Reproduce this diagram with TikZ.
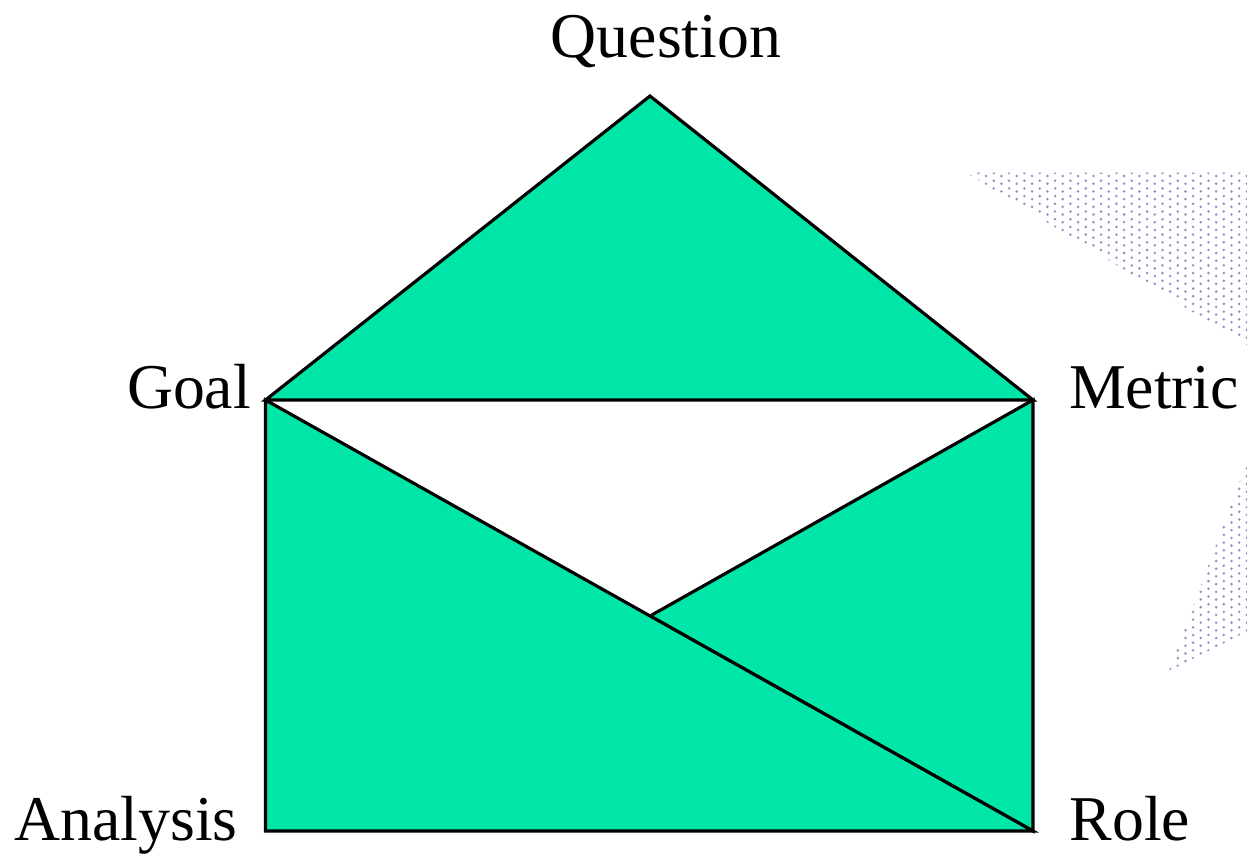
\documentclass[tikz,border=0pt]{standalone}
\usepackage{fontspec}
\usepackage{xcolor}
\usepackage{tikz}
\setmainfont{Liberation Serif}
\definecolor{envelopegreen}{HTML}{00E6A8}
\definecolor{dotpurple}{HTML}{A684C6}
\tikzset{
  corner label/.style={anchor=base,inner sep=0pt,font=\fontsize{36.3}{40}\selectfont},
  flap/.style={fill=envelopegreen,draw=black,line width=1.8pt,line join=miter}
}

\begin{document}
\begin{tikzpicture}[x=0.02cm,y=-0.02cm]
  \useasboundingbox (0,0) rectangle (1247,853);
  % dotted shadow at the right edge
  \begin{scope}
    \clip (966,172.5) -- (1248,172.5) -- (1248,346) -- cycle
          (1169,671) -- (1248,459) -- (1248,631) -- cycle;
    \foreach \i in {0,...,36} {
      \foreach \j in {0,...,65} {
        \pgfmathsetmacro{\dotx}{970.7+7.67*\i}
        \pgfmathsetmacro{\doty}{176+7.7*\j-3*mod(\i,2)}
        \fill[dotpurple] (\dotx,\doty) circle (1.4);
      }
    }
  \end{scope}
  \coordinate (top) at (650,96);
  \coordinate (left) at (265.5,400);
  \coordinate (right) at (1033,400);
  \coordinate (mid) at (650,616);
  \coordinate (bottomleft) at (265.5,831);
  \coordinate (bottomright) at (1033,831);
  \draw[flap] (left) -- (top) -- (right) -- cycle;
  \draw[flap] (right) -- (mid) -- (bottomright) -- cycle;
  \draw[flap] (left) -- (bottomleft) -- (bottomright) -- cycle;
  \node[corner label] (question) at (666,57) {Question};
  \node[corner label] (goal) at (189,408) {Goal};
  \node[corner label] (metric) at (1154,408) {Metric};
  \node[corner label] (analysis) at (126,840) {Analysis};
  \node[corner label] (role) at (1130,840) {Role};
\end{tikzpicture}
\end{document}
